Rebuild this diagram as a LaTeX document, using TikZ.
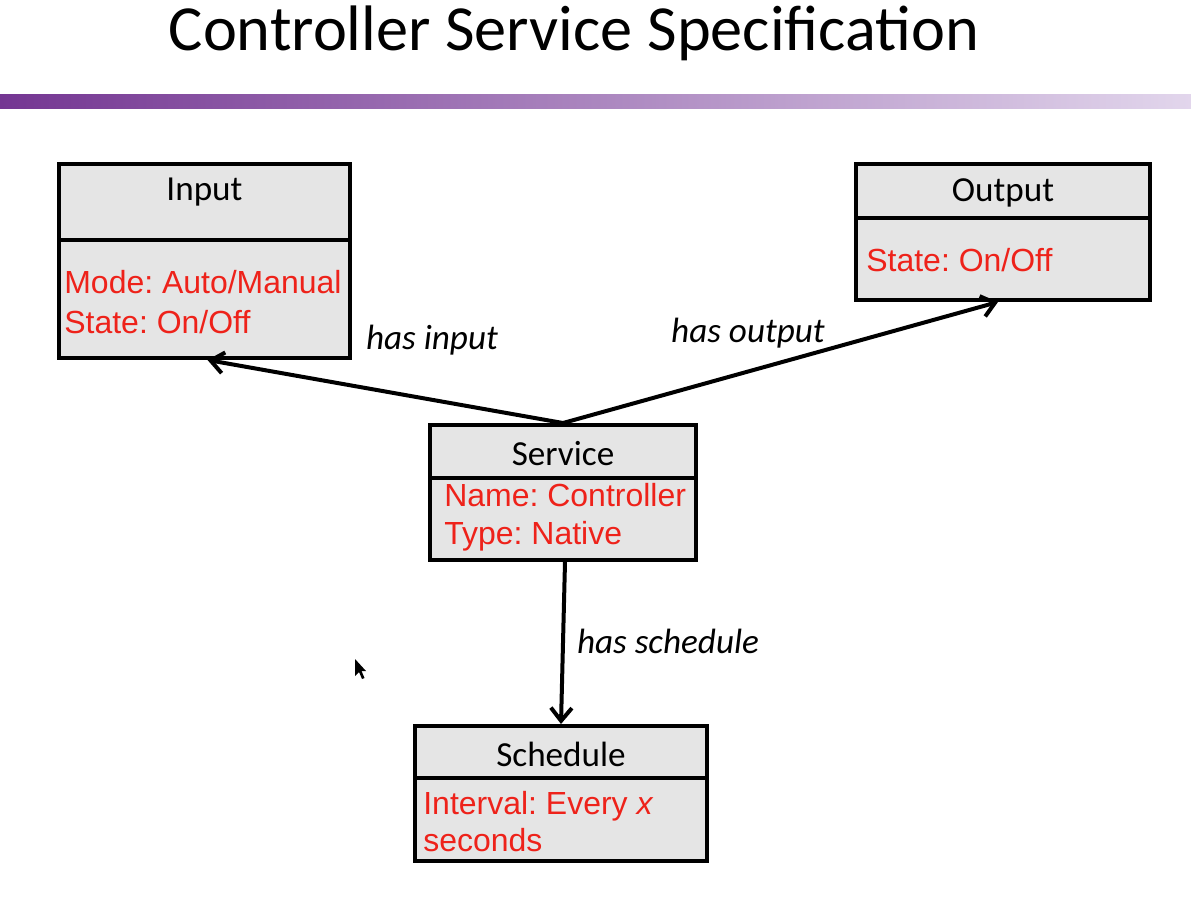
\documentclass[tikz,border=0pt]{standalone}
\usepackage{fontspec}
\setmainfont{Carlito}
\newfontfamily\arialfont{Liberation Sans}
\usetikzlibrary{arrows.meta,calc}
\definecolor{boxgray}{RGB}{229,229,229}
\definecolor{attrred}{RGB}{238,34,26}
\definecolor{barleft}{RGB}{116,54,146}
\definecolor{barright}{RGB}{226,214,236}
\frenchspacing

\begin{document}
\begin{tikzpicture}[x=0.02cm,y=-0.02cm,
  classbox/.style={draw=black, line width=0.08cm, fill=boxgray, inner sep=0pt},
  divider/.style={line width=0.08cm},
  classname/.style={font=\fontsize{20}{24}\selectfont, inner sep=0pt},
  attrs/.style={font=\arialfont\fontsize{18.2}{21.5}\selectfont, text=attrred, align=left, anchor=west, inner sep=0pt},
  rel/.style={line width=0.08cm, -{Straight Barb[length=0.26cm,width=0.42cm]}},
  rellabel/.style={font=\fontsize{20}{24}\selectfont\itshape, inner sep=0pt}]

\useasboundingbox (0,0) rectangle (1191,899);
\fill[white] (0,0) rectangle (1191,899);

% heading and rule
\node[font=\fontsize{36.6}{44}\selectfont, inner sep=0pt] (title) at (574,33) {Controller Service Specification};
\shade[left color=barleft, right color=barright] (0,94) rectangle (1191,108);

% Input class
\node[classbox, minimum width=5.82cm, minimum height=3.88cm] (input) at (204.5,261) {};
\draw[divider] (input.west |- 0,240) -- (input.east |- 0,240);
\node[classname] (inputname) at (204.5,192) {Input};
\node[attrs, font=\arialfont\fontsize{18.2}{23}\selectfont] (inputattr) at (64,302) {Mode: Auto/Manual\\State: On/Off};

% Output class
\node[classbox, minimum width=5.88cm, minimum height=2.72cm] (output) at (1003,232) {};
\draw[divider] (output.west |- 0,218) -- (output.east |- 0,218);
\node[classname] (outputname) at (1003,193) {Output};
\node[attrs] (outputattr) at (866,260) {State: On/Off};

% Service class
\node[classbox, minimum width=5.32cm, minimum height=2.7cm] (service) at (563,492.5) {};
\draw[divider] (service.west |- 0,478) -- (service.east |- 0,478);
\node[classname] (servicename) at (563,454) {Service};
\node[attrs] (serviceattr) at (444,517) {Name: Controller\\Type: Native};

% Schedule class
\node[classbox, minimum width=5.84cm, minimum height=2.7cm] (schedule) at (561,793.5) {};
\draw[divider] (schedule.west |- 0,778) -- (schedule.east |- 0,778);
\node[classname] (schedulename) at (561,754) {Schedule};
\node[attrs] (scheduleattr) at (423,821.5) {Interval: Every {\itshape x}\\seconds};

% relations
\draw[rel] (service.north) -- ([xshift=0.06cm]input.south);
\draw[rel] (service.north) -- ([xshift=-0.1cm]output.south);
\draw[rel] ([xshift=0.04cm]service.south) -- (schedule.north);

\node[rellabel] (lblinput) at (432,340) {has input};
\node[rellabel] (lbloutput) at (748,333) {has output};
\node[rellabel] (lblschedule) at (668,641) {has schedule};

% mouse pointer
\fill[black] (355,659) -- (355,676) -- (359,672) -- (362,679) -- (364.5,678) -- (361.5,671) -- (366,671) -- cycle;
\end{tikzpicture}
\end{document}
